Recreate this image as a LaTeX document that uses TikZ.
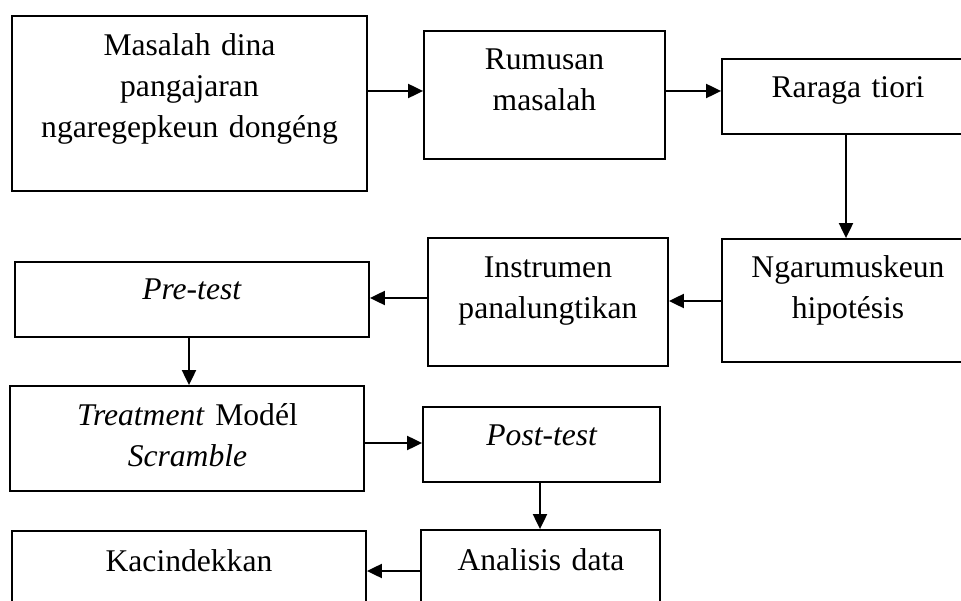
\documentclass[tikz,border=0pt]{standalone}
\usepackage{fontspec}
\setmainfont{Liberation Serif}
\usetikzlibrary{fit,arrows.meta}
\begin{document}
\begin{tikzpicture}[x=1pt,y=-1pt,
  box/.style={draw, line width=1.8pt, inner sep=0pt},
  lbl/.style={anchor=base, align=center, text width=330pt, inner sep=0pt, font=\fontsize{31.6}{41}\selectfont},
  arr/.style={line width=2pt, -{Triangle[length=15pt,width=14pt]}}]
\clip (0,0) rectangle (961,601);
% boxes
\node[box, fit={(12,16) (367,191)}] (b1) {};
\node[box, fit={(424,31) (665,159)}] (b2) {};
\node[box, fit={(722,59) (974,134)}] (b3) {};
\node[box, fit={(722,239) (974,362)}] (b4) {};
\node[box, fit={(428,238) (668,366)}] (b5) {};
\node[box, fit={(15,262) (369,337)}] (b6) {};
\node[box, fit={(10,386) (364,491)}] (b7) {};
\node[box, fit={(423,407) (660,482)}] (b8) {};
\node[box, fit={(421,530) (660,625)}] (b9) {};
\node[box, fit={(12,531) (366,625)}] (b10) {};
% labels
\node[lbl] (t1) at (189.5,56) {Masalah dina\\pangajaran\\ngaregepkeun dongéng};
\node[lbl] (t2) at (544.5,70) {Rumusan\\masalah};
\node[lbl] (t3) at (848,98) {Raraga tiori};
\node[lbl] (t4) at (848,278) {Ngarumuskeun\\hipotésis};
\node[lbl] (t5) at (548,278) {Instrumen\\panalungtikan};
\node[lbl] (t6) at (192,300) {\textit{Pre-test}};
\node[lbl] (t7) at (187.5,425) {\textit{Treatment} Modél\\\textit{Scramble}};
\node[lbl] (t8) at (542,445) {\textit{Post-test}};
\node[lbl] (t9) at (541,570) {Analisis data};
\node[lbl] (t10) at (189,571) {Kacindekkan};
% connectors
\draw[arr] (b1.east |- 0,91) -- (b2.west |- 0,91);
\draw[arr] (b2.east |- 0,91) -- (b3.west |- 0,91);
\draw[arr] (b3.south -| 846,0) -- (b4.north -| 846,0);
\draw[arr] (b4.west |- 0,301) -- (b5.east |- 0,301);
\draw[arr] (b5.west |- 0,298) -- (b6.east |- 0,298);
\draw[arr] (b6.south -| 189,0) -- (b7.north -| 189,0);
\draw[arr] (b7.east |- 0,443) -- (b8.west |- 0,443);
\draw[arr] (b8.south -| 540,0) -- (b9.north -| 540,0);
\draw[arr] (b9.west |- 0,571) -- (b10.east |- 0,571);
\end{tikzpicture}
\end{document}
